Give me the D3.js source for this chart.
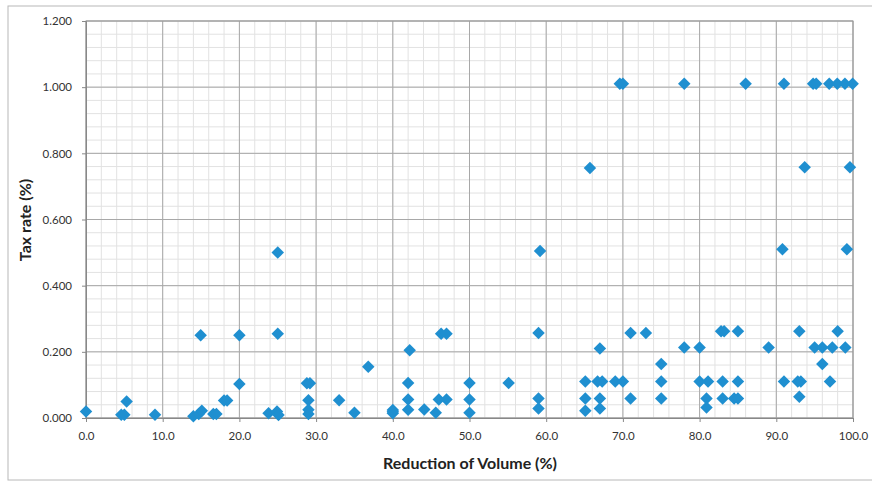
<!DOCTYPE html>
<html><head><meta charset="utf-8">
<script src="https://cdn.jsdelivr.net/npm/d3@7"></script>
<style>body{margin:0;background:#fff}svg{display:block}</style>
</head><body>
<svg id="c" width="872" height="483"></svg>
<script>
const xTicks = [0,10,20,30,40,50,60,70,80,90,100];
const yTicks = [0,0.2,0.4,0.6,0.8,1.0,1.2];
const xTitle = "Reduction of Volume (%)";
const yTitle = "Tax rate (%)";
const reduction = [
0,4.6,5.0,5.3,9.0,14.0,14.7,15.1,14.95,16.6,17.0,18.0,18.4,20.0,20.0,
23.8,24.9,25.1,25.0,25.0,28.8,29.2,29.0,29.0,29.0,33.0,35.0,36.8,
40.0,40.0,40.0,42.0,42.2,42.0,42.0,44.1,45.6,46.0,47.0,46.3,47.0,
50.0,50.0,50.0,55.1,59.2,59.0,59.0,59.0,
65.1,65.1,65.1,65.7,66.7,67.3,67.0,67.0,67.0,69.0,70.0,69.6,70.0,
71.0,73.0,71.0,75.0,75.0,75.0,78.0,78.0,80.0,80.0,81.1,80.9,80.9,
82.8,83.2,85.0,83.0,83.0,85.0,84.5,85.0,86.0,89.0,
90.8,91.0,91.0,92.8,93.2,93.0,93.0,93.7,
94.8,95.2,96.9,97.95,98.95,99.95,95.0,96.0,97.3,99.0,96.0,97.0,98.0,99.2,99.6
];
const taxRate = [
0.02,0.01,0.01,0.05,0.01,0.005,0.012,0.022,0.25,0.012,0.012,0.053,0.053,0.25,0.103,
0.014,0.02,0.009,0.255,0.50,0.105,0.105,0.054,0.025,0.012,0.054,0.016,0.155,
0.024,0.014,0.019,0.106,0.205,0.056,0.025,0.026,0.016,0.056,0.056,0.255,0.255,
0.106,0.056,0.016,0.106,0.505,0.257,0.059,0.029,
0.11,0.059,0.022,0.756,0.11,0.11,0.059,0.029,0.21,0.11,0.11,1.01,1.01,
0.257,0.257,0.059,0.163,0.11,0.059,0.213,1.01,0.213,0.11,0.11,0.059,0.032,
0.262,0.262,0.262,0.11,0.059,0.11,0.059,0.059,1.01,0.213,
0.51,0.11,1.01,0.11,0.11,0.064,0.262,0.758,
1.01,1.01,1.01,1.01,1.01,1.01,0.213,0.213,0.213,0.213,0.163,0.11,0.262,0.51,0.758
];

const svg = d3.select("#c");
const L = 86, R = 853, T = 21, B = 418;
const x = d3.scaleLinear().domain([0,100]).range([L,R]);
const y = d3.scaleLinear().domain([0,1.2]).range([B,T]);

svg.append("rect").attr("x",8).attr("y",6).attr("width",872).attr("height",474)
  .attr("fill","#fff").attr("stroke","#b8b8b8").attr("stroke-width",1);

// minor grid
const g = svg.append("g");
g.selectAll(".mx").data(d3.range(0,101,2)).join("line")
  .attr("x1",d=>x(d)).attr("x2",d=>x(d)).attr("y1",T).attr("y2",B)
  .attr("stroke","#e2e2e2").attr("stroke-width",1);
g.selectAll(".my").data(d3.range(0,31).map(i=>i*0.04)).join("line")
  .attr("y1",d=>y(d)).attr("y2",d=>y(d)).attr("x1",L).attr("x2",R)
  .attr("stroke","#e2e2e2").attr("stroke-width",1);
// major grid
g.selectAll(".Mx").data(xTicks).join("line")
  .attr("x1",d=>x(d)).attr("x2",d=>x(d)).attr("y1",T).attr("y2",B)
  .attr("stroke","#a8a8a8").attr("stroke-width",1);
g.selectAll(".My").data(yTicks).join("line")
  .attr("y1",d=>y(d)).attr("y2",d=>y(d)).attr("x1",L).attr("x2",R)
  .attr("stroke","#a8a8a8").attr("stroke-width",1);
svg.append("rect").attr("x",L).attr("y",T).attr("width",R-L).attr("height",B-T)
  .attr("fill","none").attr("stroke","#999");

// axes
const xa = svg.append("g").attr("transform",`translate(0,${B})`)
  .call(d3.axisBottom(x).tickValues(xTicks).tickFormat(d3.format(".1f")).tickSize(4).tickPadding(10));
const ya = svg.append("g").attr("transform",`translate(${L},0)`)
  .call(d3.axisLeft(y).tickValues(yTicks).tickFormat(d3.format(".3f")).tickSize(4).tickPadding(10));
[xa,ya].forEach(a=>{
  a.select(".domain").attr("stroke","#888");
  a.selectAll(".tick line").attr("stroke","#888");
  a.selectAll("text").attr("font-family","Lato, 'Open Sans', sans-serif")
    .attr("font-size",11.5).attr("fill","#333");
});

// points
const sym = d3.symbol().type(d3.symbolSquare).size(78);
svg.append("g").selectAll("path").data(reduction.map((v,i)=>[v,taxRate[i]])).join("path")
  .attr("d",sym)
  .attr("transform",d=>`translate(${x(d[0])},${y(d[1])}) rotate(45)`)
  .attr("fill","#1f8fd0");

// titles
svg.append("text").attr("x",470).attr("y",469).attr("text-anchor","middle")
  .attr("font-family","Lato, sans-serif").attr("font-weight","bold").attr("font-size",16)
  .attr("fill","#222").text(xTitle);
svg.append("text").attr("transform","translate(31,220) rotate(-90)").attr("text-anchor","middle")
  .attr("font-family","Lato, sans-serif").attr("font-weight","bold").attr("font-size",16)
  .attr("fill","#222").text(yTitle);
</script>
</body></html>
